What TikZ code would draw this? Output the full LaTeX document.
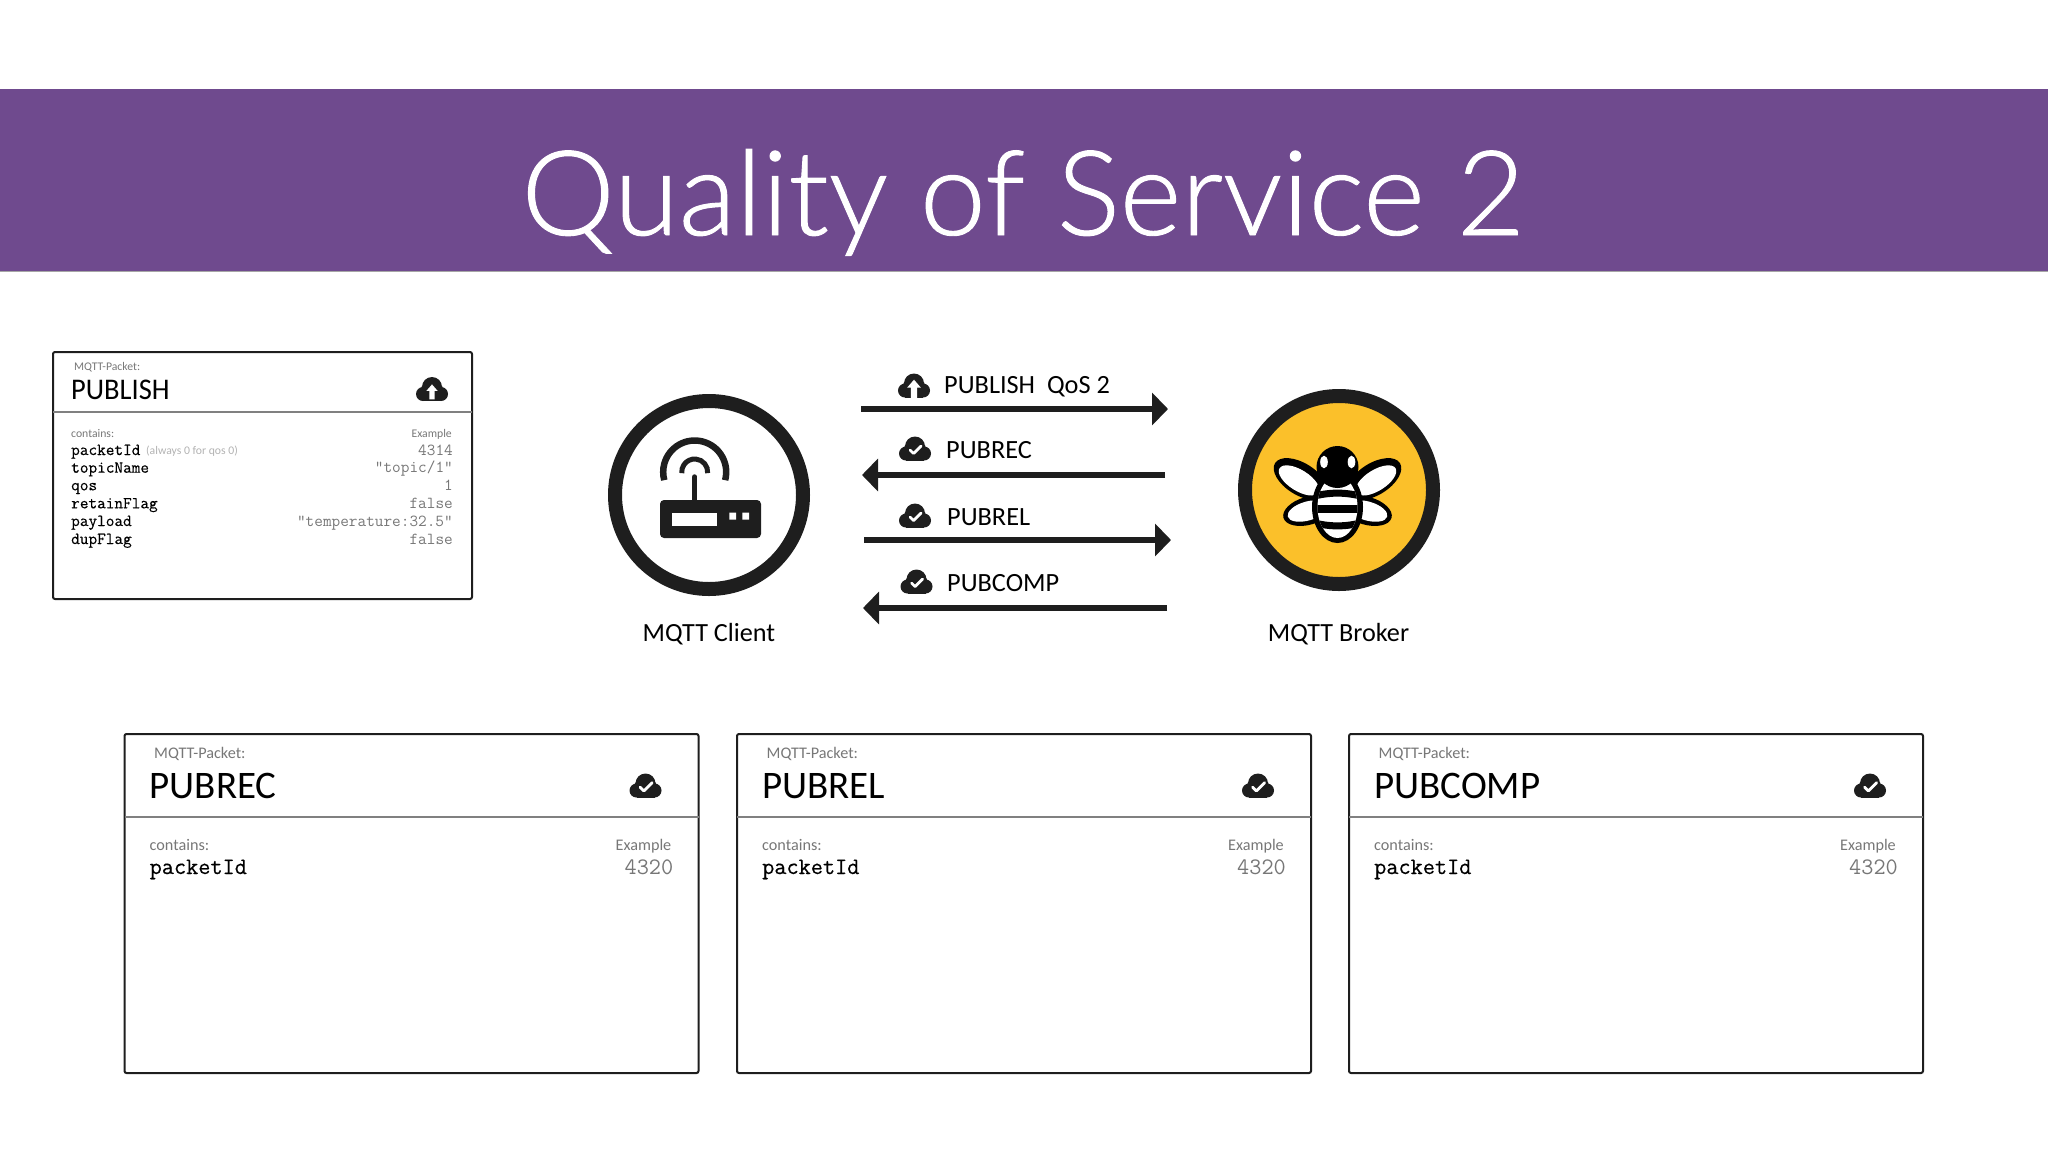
\documentclass[tikz,border=0pt]{standalone}
\usepackage{fontspec}
\setmainfont{Carlito}
\newfontfamily\titlefont[FakeBold=0.8]{Lato Light}
\newfontfamily\fieldfont[FakeBold=0.4]{Latin Modern Mono}
\usetikzlibrary{arrows.meta,shapes.geometric}
\definecolor{bannerpurple}{HTML}{6F4A8E}
\definecolor{iconblack}{HTML}{1E1E1E}
\definecolor{beeyellow}{HTML}{FBC02A}
\definecolor{labelgray}{HTML}{777777}
\def\pbig#1{\fontsize{#1}{#1}\selectfont}

\tikzset{
  cloud body/.pic={
    \fill[iconblack] (-9,4.5) circle (7) (9,4.5) circle (7) (0,-2.5) circle (10)
        (-6,0) circle (5.5) (6,0) circle (5.5);
    \fill[iconblack] (-9,4) rectangle (9,11.5);
  },
  cloud ok/.pic={
    \pic {cloud body};
    \draw[white,line width=2.8,line cap=round,line join=round] (-5,1) -- (-1.5,4.5) -- (6,-3);
  },
  cloud up/.pic={
    \pic {cloud body};
    \fill[white] (0,-6) -- (6.5,1.5) -- (3,1.5) -- (3,11.5) -- (-3,11.5) -- (-3,1.5) -- (-6.5,1.5) -- cycle;
  }
}

\begin{document}
\begin{tikzpicture}[x=1pt,y=-1pt]
    \tikzstyle{packet box}=[draw=iconblack,line width=2pt,rounded corners=2pt,inner sep=0pt,outer sep=0pt,anchor=north west]
    \tikzstyle{rule}=[draw=gray,line width=1.2pt]
    \tikzstyle{txt}=[inner sep=0pt,anchor=base west]
    \tikzstyle{small head}=[txt,text=labelgray,font=\pbig{11.7}]
    \tikzstyle{small field}=[txt,text=black,font=\pbig{16.8}\fieldfont]
    \tikzstyle{small value}=[txt,anchor=base east,text=labelgray,font=\pbig{16.8}\ttfamily]
    \tikzstyle{big head}=[txt,text=labelgray,font=\pbig{16.2}]
    \tikzstyle{big field}=[txt,text=black,font=\pbig{23.6}\fieldfont]
    \tikzstyle{flow label}=[txt,font=\pbig{26.3}]
    \tikzstyle{flow}=[draw=iconblack,line width=6.7pt,-{Triangle[length=16pt,width=32pt]}]
    \tikzstyle{ring}=[draw=iconblack,line width=14pt,circle,minimum size=188pt,inner sep=0pt,outer sep=0pt]
    \tikzstyle{caption}=[inner sep=0pt,anchor=base,font=\pbig{26.2}]

    \useasboundingbox (0,0) rectangle (2048,1152);

    % Draw the banner
    \fill[bannerpurple] (0,89) rectangle (2048,271);
    \draw[gray!70,line width=1pt] (0,271.5) -- (2048,271.5);
    \node[anchor=base,text=white,inner sep=0pt,font=\titlefont\pbig{118}] (title) at (1023,235) {Quality of Service 2};

    % Draw the PUBLISH packet
    \node[packet box,minimum width=419pt,minimum height=247pt] (P) at (53,352) {};
    \draw[rule] (53,412) -- (472,412);
    \node[small head] (P-kind) at (74,370) {MQTT-Packet:};
    \node[txt,xscale=.95,font=\pbig{30}] (P-title) at (71,399.5) {PUBLISH};
    \pic[scale=.85] at (432,389.5) {cloud up};
    \node[small head] (P-contains) at (71,437) {contains:};
    \node[small head,anchor=base east] (P-example) at (452,437) {Example};
    \foreach \name/\y/\field/\value in {1/455/packetId/4314,2/472.7/topicName/{“topic/1“},3/490.3/qos/1,
        4/508.3/retainFlag/false,5/526/payload/{“temperature:32.5“},6/544/dupFlag/false}
    {
        \node[small field] (F-\name) at (71,\y) {\field};
        \node[small value] (V-\name) at (453,\y) {\value};
    }
    \node[txt,text=black!30,font=\pbig{11.7}] (P-note) at (146,454.5) {(always 0 for qos 0)};

    % Draw the three small packets
    \foreach \name/\x/\label in {1/124.5/PUBREC,2/737/PUBREL,3/1349/PUBCOMP}
    {
        \node[packet box,minimum width=574pt,minimum height=339pt] (B-\name) at (\x,734) {};
        \draw[rule] (\x,817) -- (\x+574,817);
        \node[big head] (K-\name) at (\x+29.5,758.5) {MQTT-Packet:};
        \node[txt,font=\pbig{39}] (T-\name) at (\x+25,798.5) {\label};
        \pic[scale=1.1] at (\x+521,786) {cloud ok};
        \node[big head] (C-\name) at (\x+25,850) {contains:};
        \node[big head,anchor=base east] (E-\name) at (\x+547,850) {Example};
        \node[big field] (I-\name) at (\x+25,874) {packetId};
        \node[txt,anchor=base east,text=labelgray,font=\pbig{23.6}\ttfamily] (N-\name) at (\x+549,874) {4320};
    }

    % Draw the client
    \node[ring] (client) at (709,495) {};
    \fill[iconblack,rounded corners=4pt] (660,500) rectangle (761,538);
    \fill[white] (672.3,512.7) rectangle (717.3,525.7);
    \fill[white] (729.3,512.7) rectangle (736,519.5) (742.3,512.7) rectangle (749,519.5);
    \draw[iconblack,line width=5.5pt,line cap=round] (694.7,477) -- (694.7,502);
    \draw[iconblack,line width=5pt] (694.7,472) ++(-5:13pt) arc[start angle=-5,end angle=185,radius=13pt];
    \draw[iconblack,line width=6.5pt] (694.7,472) ++(-15:31.5pt) arc[start angle=-15,end angle=195,radius=31.5pt];
    \node[caption] (client text) at (709,641) {MQTT Client};

    % Draw the broker
    \node[ring,fill=beeyellow] (broker) at (1339,490) {};
    \foreach \s in {-1,1}
    {
        \fill[black,rotate around={\s*32:(1337.5+\s*37,479)}] (1337.5+\s*37,479) ellipse [x radius=30pt,y radius=16pt];
        \fill[white,rotate around={\s*32:(1337.5+\s*37,479)}] (1337.5+\s*37.5,481) ellipse [x radius=23pt,y radius=10.5pt];
        \fill[black,rotate around={-\s*16:(1337.5+\s*30,511)}] (1337.5+\s*29,511) ellipse [x radius=26pt,y radius=14pt];
        \fill[white,rotate around={-\s*16:(1337.5+\s*30,511)}] (1337.5+\s*30,511) ellipse [x radius=20.5pt,y radius=9.5pt];
    }
    \fill[black] (1337.5,507) ellipse [x radius=25.5pt,y radius=36pt];
    \begin{scope}
        \clip (1337.5,507) ellipse [x radius=20pt,y radius=31pt];
        \fill[white] (1310,470) rectangle (1365,545);
        \draw[black,line width=7pt] (1310,497) to[bend left=14] (1365,497);
        \draw[black,line width=8pt] (1310,509) -- (1365,509);
        \draw[black,line width=7pt] (1310,522) to[bend right=14] (1365,522);
    \end{scope}
    \fill[black] (1337.5,467) circle (21);
    \fill[white] (1324,462) ellipse [x radius=3.8pt,y radius=6.3pt] (1351.5,462) ellipse [x radius=3.8pt,y radius=6.3pt];
    \node[caption] (broker text) at (1338.5,641) {MQTT Broker};

    % Draw the four exchanges
    \coordinate (A-1) at (861,409);
    \coordinate (Z-1) at (1168,409);
    \coordinate (A-2) at (1165,475);
    \coordinate (Z-2) at (862,475);
    \coordinate (A-3) at (864,540);
    \coordinate (Z-3) at (1171,540);
    \coordinate (A-4) at (1167,608);
    \coordinate (Z-4) at (863,608);
    \foreach \source in {1,...,4}
        \draw[flow] (A-\source) -- (Z-\source);

    \node[flow label] (L-1) at (944,393.5) {PUBLISH\ \ QoS 2};
    \node[flow label] (L-2) at (946,458) {PUBREC};
    \node[flow label] (L-3) at (947,525) {PUBREL};
    \node[flow label] (L-4) at (947,591) {PUBCOMP};
    \pic[scale=1.05] at (914,386) {cloud up};
    \pic at (915,449) {cloud ok};
    \pic at (915,516) {cloud ok};
    \pic at (916.5,582) {cloud ok};
\end{tikzpicture}
\end{document}
